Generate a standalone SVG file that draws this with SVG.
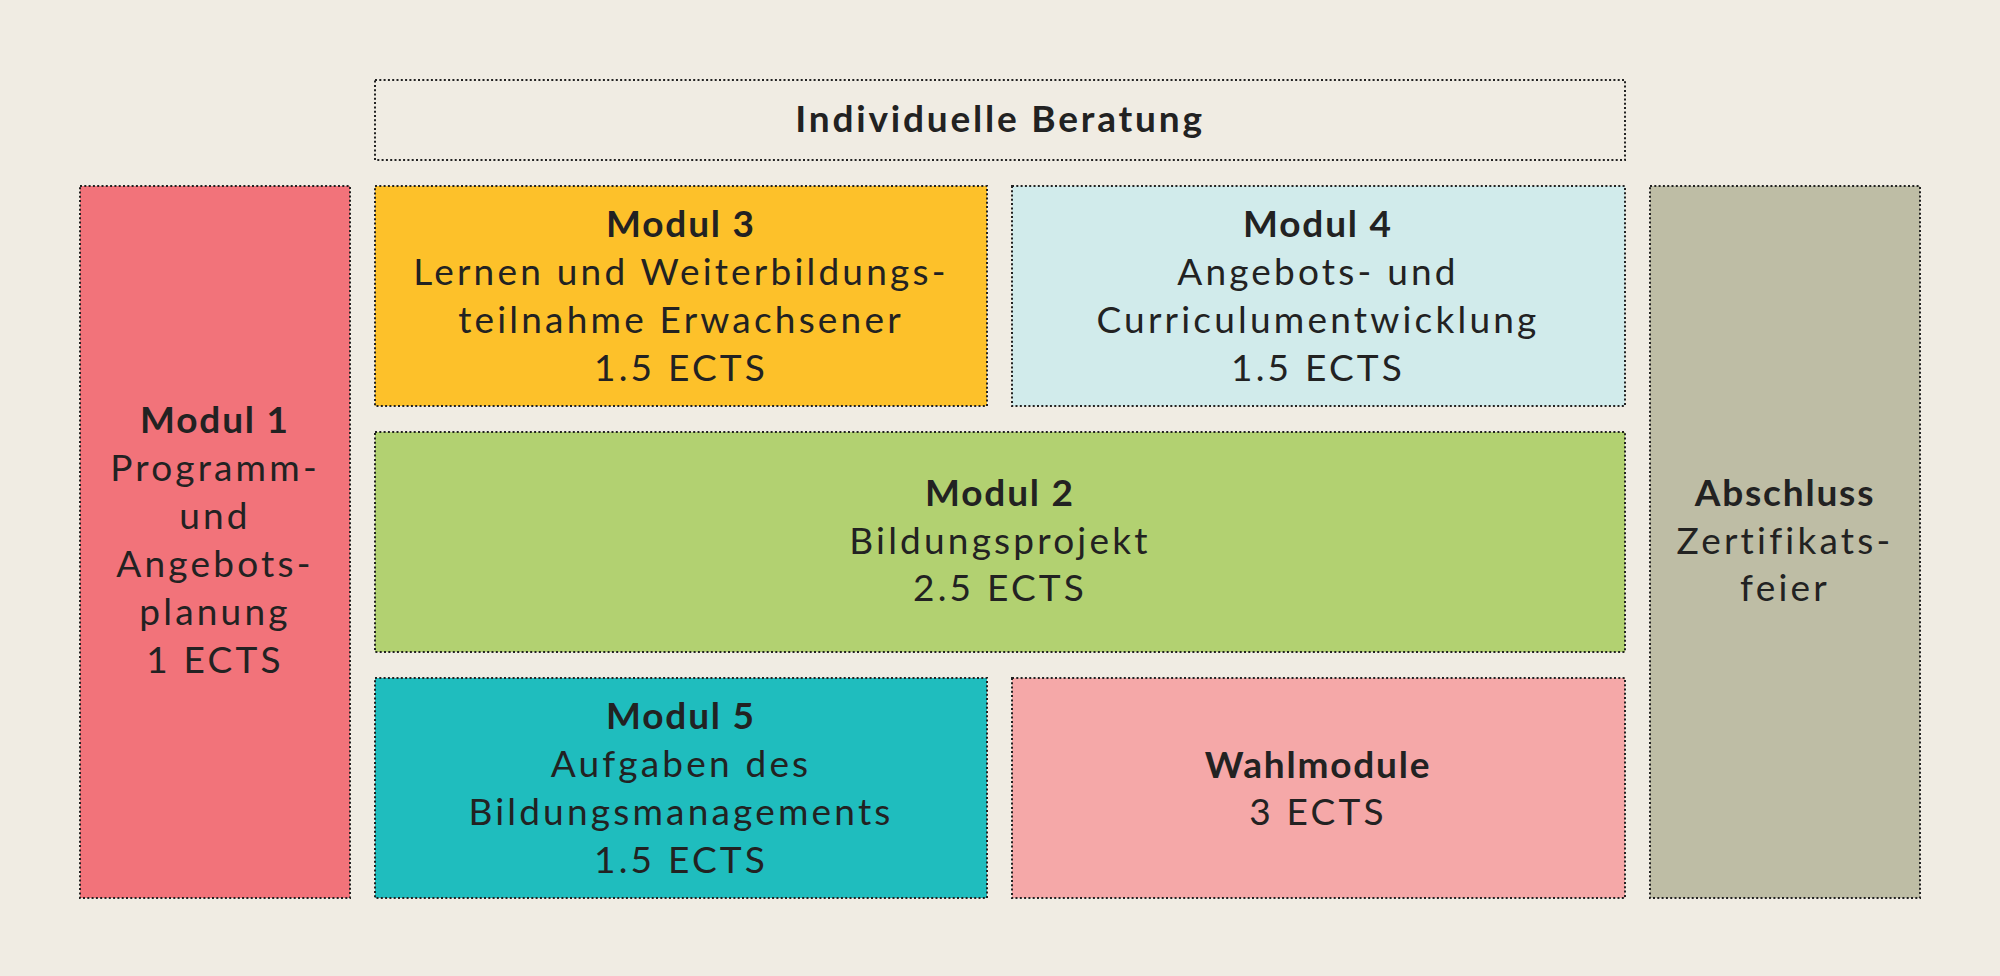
<svg xmlns="http://www.w3.org/2000/svg" width="2000" height="976" viewBox="0 0 2000 976">
<style>
.box{stroke:#222;stroke-width:2;stroke-dasharray:2 2.3}
.t{font-family:Lato,"Noto Sans",sans-serif;font-size:37px;fill:#222;text-anchor:middle;letter-spacing:3.2px}
.b{font-weight:bold;letter-spacing:1.8px}
.h{font-weight:bold;letter-spacing:2.8px}
</style>
<rect width="2000" height="976" fill="#F0ECE3"/>
<g id="beratung">
<rect class="box" x="375" y="80" width="1250" height="80" fill="#F0ECE3"/>
<text class="t h" x="1000" y="132">Individuelle Beratung</text>
</g>
<g id="modul1">
<rect class="box" x="80" y="186" width="270" height="712" fill="#F2737A"/>
<text class="t" x="215"><tspan class="b" x="215" y="433">Modul 1</tspan><tspan x="215" y="481">Programm-</tspan><tspan x="215" y="529">und</tspan><tspan x="215" y="577">Angebots-</tspan><tspan x="215" y="625">planung</tspan><tspan x="215" y="673">1 ECTS</tspan></text>
</g>
<g id="modul3">
<rect class="box" x="375" y="186" width="612" height="220" fill="#FDC12A"/>
<text class="t"><tspan class="b" x="681" y="237">Modul 3</tspan><tspan x="681" y="285">Lernen und Weiterbildungs-</tspan><tspan x="681" y="333">teilnahme Erwachsener</tspan><tspan x="681" y="381">1.5 ECTS</tspan></text>
</g>
<g id="modul4">
<rect class="box" x="1012" y="186" width="613" height="220" fill="#D1EBEB"/>
<text class="t"><tspan class="b" x="1318" y="237">Modul 4</tspan><tspan x="1318" y="285">Angebots- und</tspan><tspan x="1318" y="333">Curriculumentwicklung</tspan><tspan x="1318" y="381">1.5 ECTS</tspan></text>
</g>
<g id="modul2">
<rect class="box" x="375" y="432" width="1250" height="220" fill="#B2D171"/>
<text class="t"><tspan class="b" x="1000" y="506">Modul 2</tspan><tspan x="1000" y="554">Bildungsprojekt</tspan><tspan x="1000" y="601">2.5 ECTS</tspan></text>
</g>
<g id="modul5">
<rect class="box" x="375" y="678" width="612" height="220" fill="#1FBDBE"/>
<text class="t"><tspan class="b" x="681" y="729">Modul 5</tspan><tspan x="681" y="777">Aufgaben des</tspan><tspan x="681" y="825">Bildungsmanagements</tspan><tspan x="681" y="873">1.5 ECTS</tspan></text>
</g>
<g id="wahlmodule">
<rect class="box" x="1012" y="678" width="613" height="220" fill="#F5A8A8"/>
<text class="t"><tspan class="b" x="1318" y="778">Wahlmodule</tspan><tspan x="1318" y="825">3 ECTS</tspan></text>
</g>
<g id="abschluss">
<rect class="box" x="1650" y="186" width="270" height="712" fill="#BEBDA5"/>
<text class="t"><tspan class="b" x="1785" y="506">Abschluss</tspan><tspan x="1785" y="554">Zertifikats-</tspan><tspan x="1785" y="601">feier</tspan></text>
</g>
<g id="connectors"></g>
</svg>
